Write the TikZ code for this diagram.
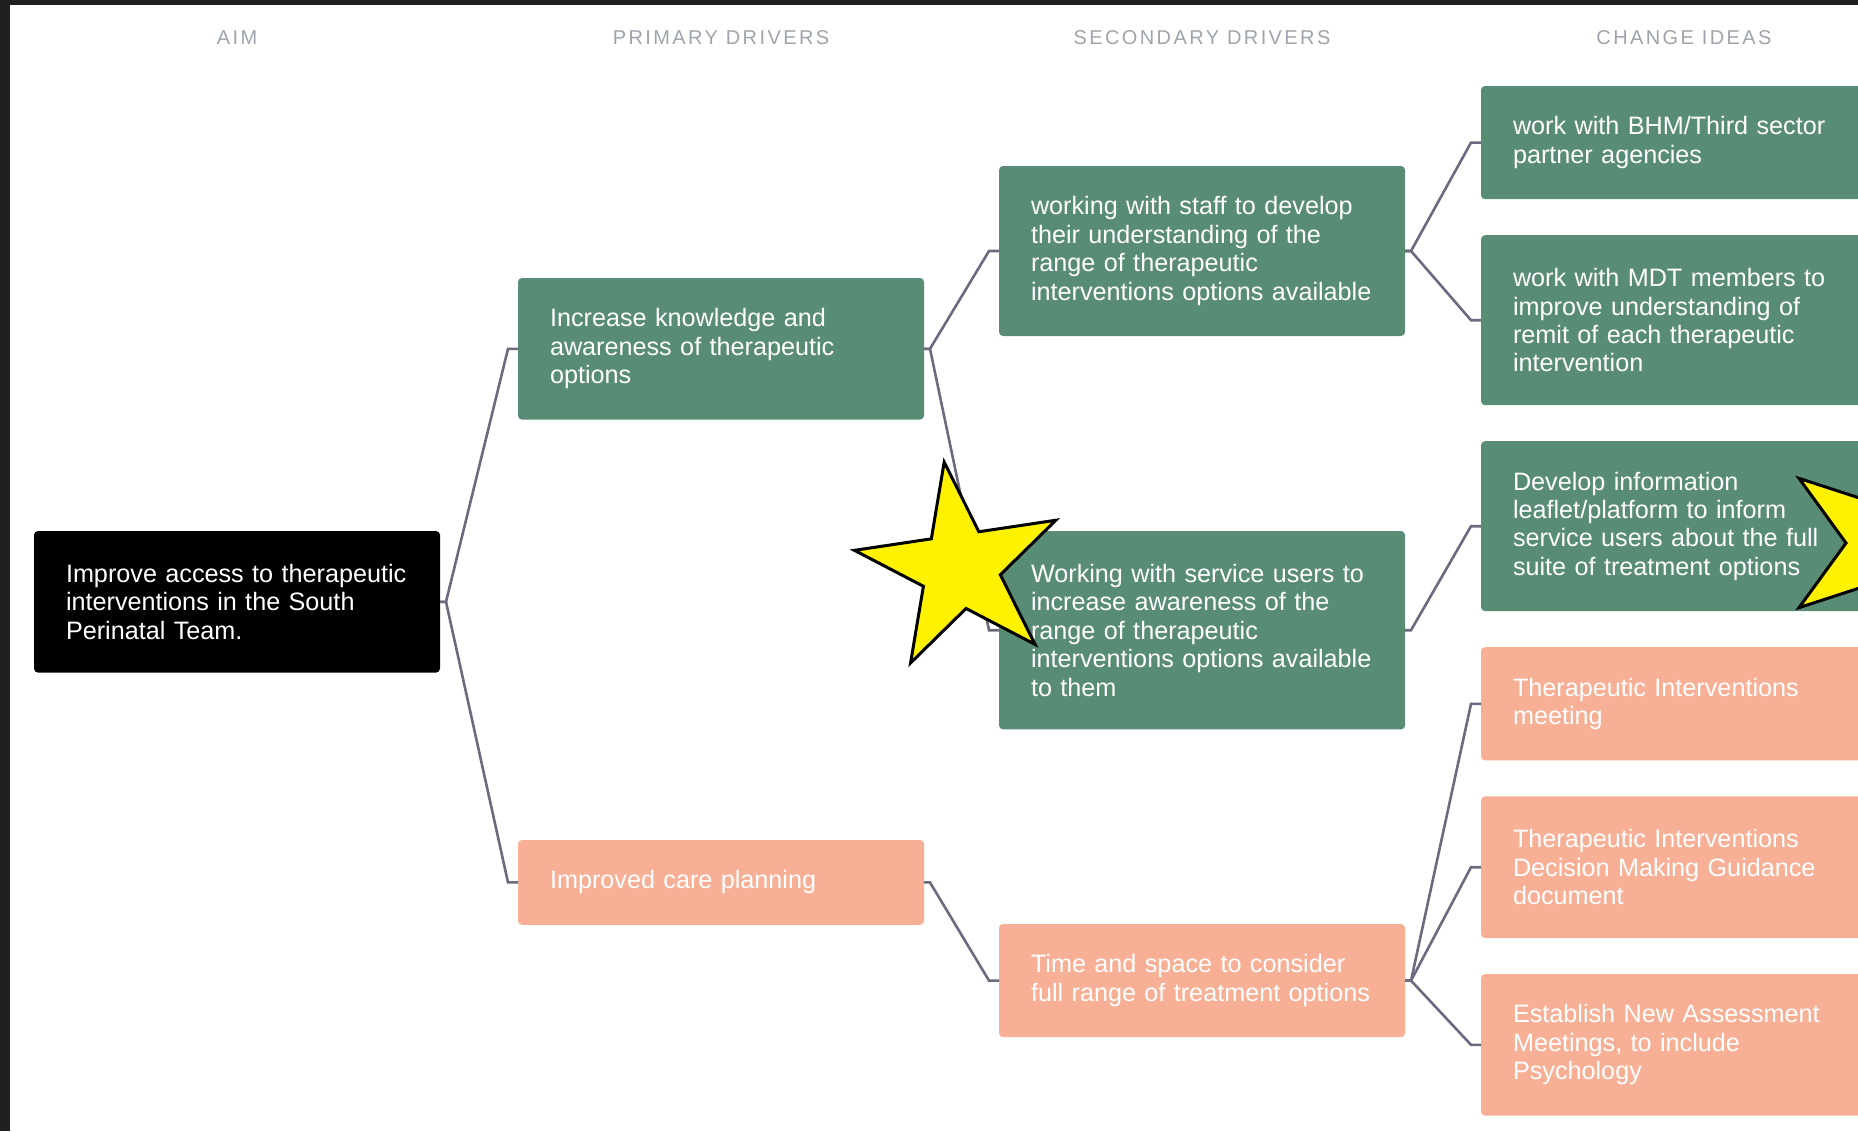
\documentclass[tikz,border=0pt]{standalone}
\usepackage{fontspec}
\setmainfont{Liberation Sans}
\newfontfamily\headfont[LetterSpace=12]{Liberation Sans}
\usepackage{xcolor}
\usepackage{tikz}
\usetikzlibrary{positioning,shapes.geometric}
\definecolor{sage}{RGB}{89,140,116}
\definecolor{peach}{RGB}{247,176,149}
\definecolor{linkgray}{RGB}{108,106,126}
\definecolor{headgray}{RGB}{158,164,172}
\definecolor{framegray}{RGB}{32,32,32}

\begin{document}
\begin{tikzpicture}[
		x=0.5pt,y=-0.5pt,
		box/.style={rounded corners=2pt,minimum width=203pt,text width=171pt,inner xsep=16pt,inner ysep=0pt,outer sep=0pt,align=left,anchor=north west,text=white,font=\fontsize{12.6}{14.2}\selectfont},
		rows/.style={minimum height=#1*14.2pt+28.2pt},
		aimbox/.style={box,fill=black},
		sagebox/.style={box,fill=sage},
		peachbox/.style={box,fill=peach},
		head/.style={font=\headfont\fontsize{10}{12}\selectfont,text=headgray},
		link/.style={draw=linkgray,line width=1.3pt},
		flag/.style={star,star points=5,star point ratio=0.382,draw=black,line width=1.5pt,fill=yellow,inner sep=0pt}
		]

		\useasboundingbox (0,0) rectangle (1858,1131);
		\fill[framegray] (0,0) rectangle (10,1131);
		\fill[framegray] (0,0) rectangle (1858,5);

		% aim and drivers
		\node[aimbox,rows=3] (aim) at (34,531) {Improve access to therapeutic\\interventions in the South\\Perinatal Team.};
		\node[sagebox,rows=3] (pri1) at (518,278) {Increase knowledge and\\awareness of therapeutic\\options};
		\node[peachbox,rows=1] (pri2) at (518,840) {Improved care planning};
		\node[sagebox,rows=4] (sec1) at (999,166) {working with staff to develop\\their understanding of the\\range of therapeutic\\interventions options available};
		\node[sagebox,rows=5] (sec2) at (999,531) {Working with service users to\\increase awareness of the\\range of therapeutic\\interventions options available\\to them};
		\node[peachbox,rows=2] (sec3) at (999,924) {Time and space to consider\\full range of treatment options};

		% change ideas
		\node[sagebox,rows=2] (idea1) at (1481,86) {work with BHM/Third sector\\partner agencies};
		\node[sagebox,rows=4,below=18pt of idea1.south west,anchor=north west] (idea2) {work with MDT members to\\improve understanding of\\remit of each therapeutic\\intervention};
		\node[sagebox,rows=4,below=18pt of idea2.south west,anchor=north west] (idea3) {Develop information\\leaflet/platform to inform\\service users about the full\\suite of treatment options};
		\node[peachbox,rows=2,below=18pt of idea3.south west,anchor=north west] (idea4) {Therapeutic Interventions\\meeting};
		\node[peachbox,rows=3,below=18pt of idea4.south west,anchor=north west] (idea5) {Therapeutic Interventions\\Decision Making Guidance\\document};
		\node[peachbox,rows=3,below=18pt of idea5.south west,anchor=north west] (idea6) {Establish New Assessment\\Meetings, to include\\Psychology};

		% column titles
		\coordinate (top) at (0,38);
		\node[head] (hAim) at (aim.center |- top) {AIM};
		\node[head] (hPri) at (pri1.center |- top) {PRIMARY DRIVERS};
		\node[head] (hSec) at (sec1.center |- top) {SECONDARY DRIVERS};
		\node[head] (hIdea) at (idea1.center |- top) {CHANGE IDEAS};

		\foreach \a/\b in {aim/pri1,aim/pri2,pri1/sec1,pri1/sec2,pri2/sec3,sec1/idea1,sec1/idea2,sec2/idea3,sec3/idea4,sec3/idea5,sec3/idea6}
			\draw[link] (\a.east) -- ++(3pt,0) -- ([xshift=-5pt]\b.west) -- (\b.west);

		% stars
		\node[flag,minimum size=40.9pt,rotate=-27.5] (star1) at (960,568) {};
		\node[flag,minimum size=42pt,rotate=90] (star2) at (1888,543) {};

	\end{tikzpicture}
\end{document}
